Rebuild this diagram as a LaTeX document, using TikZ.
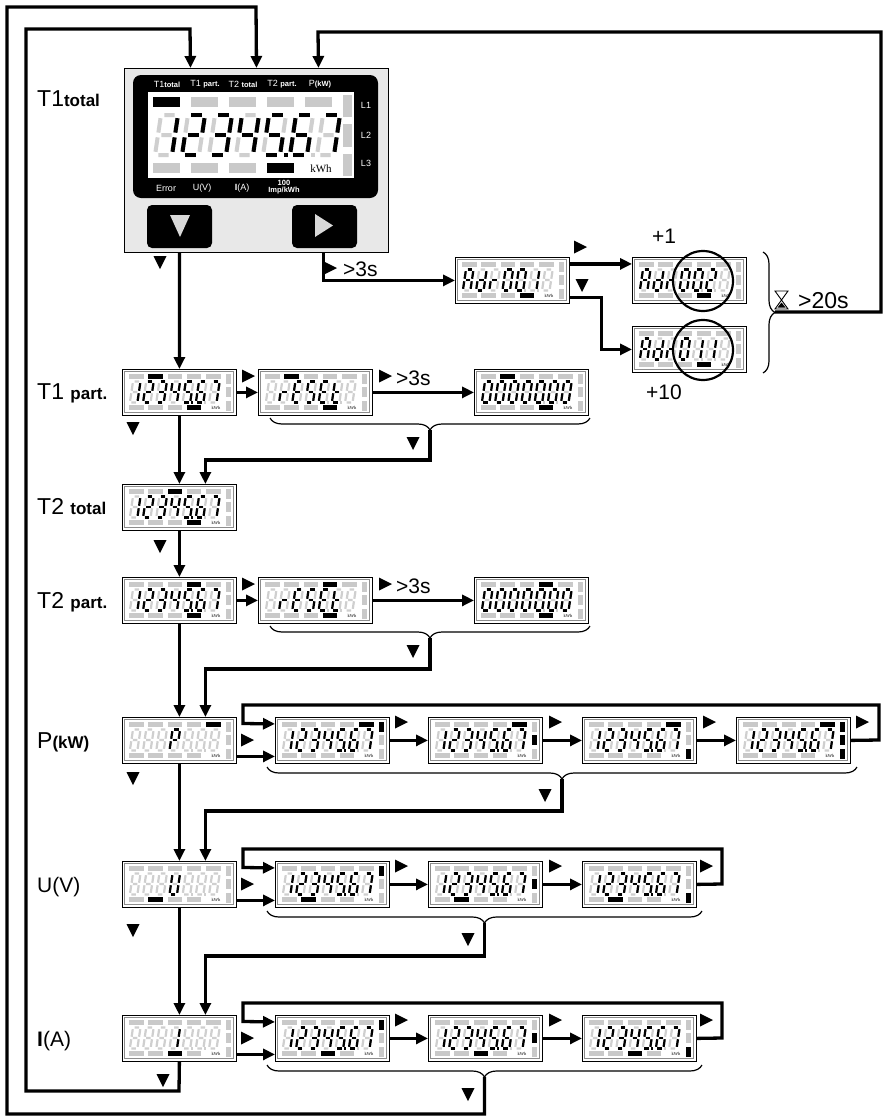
\documentclass[tikz,border=0pt]{standalone}
\usepackage{fontspec}
\setmainfont{Liberation Sans}
\newfontfamily\kwhfont{Liberation Serif}
\usetikzlibrary{arrows.meta,decorations.pathreplacing}
\definecolor{ghost}{gray}{0.81}
\definecolor{barg}{gray}{0.79}
\definecolor{devgray}{gray}{0.91}

\def\dw{7.5pt}\def\dh{21pt}\def\seglw{2.2pt}\def\dsl{0.15}
\def\sgZ{1111110}\def\sgOne{0110000}\def\sgTwo{1101101}\def\sgThree{1111001}
\def\sgFour{0110011}\def\sgFive{1011011}\def\sgSix{1011111}\def\sgSeven{1110000}
\def\sgG{0000000}\def\sgP{1100111}\def\sgU{0111110}\def\sgA{1110111}
\def\sgd{0111101}\def\sgr{0000101}\def\sgE{1001111}\def\sgS{1011011}\def\sgt{0001111}
\def\LnNums{\sgOne,\sgTwo,\sgThree,\sgFour,\sgFive,\sgSix,\sgSeven}
\def\LnZeros{\sgZ,\sgZ,\sgZ,\sgZ,\sgZ,\sgZ,\sgZ}
\def\LnReset{\sgG,\sgr,\sgE,\sgS,\sgE,\sgt,\sgG}

\tikzset{
  conn/.style={line width=3.3pt},
  arr/.style={conn,-{Triangle[length=12pt,width=11pt]}},
  segon/.style={line width=\seglw,draw=black},
  segoff/.style={line width=\seglw,draw=ghost},
  dbox/.style={draw,line width=0.8pt,fill=white,minimum width=114pt,minimum height=46pt,inner sep=0pt,anchor=north west},
  bracefine/.style={decorate,decoration={brace,amplitude=12pt},line width=1.2pt},
  lbl/.style={anchor=base west,inner sep=0pt},
  devtxt/.style={text=white,inner sep=0pt,font=\fontsize{9}{10}\selectfont},
  bigtxt/.style={inner sep=0pt,font=\fontsize{21}{24}\selectfont}
}

\def\DigParse#1#2#3#4#5#6#7\relax{%
  \draw[segoff] (0.2,0)--(0.8,0) (1,0.08)--(1,0.44) (1,0.56)--(1,0.92) (0.2,1)--(0.8,1) (0,0.56)--(0,0.92) (0,0.08)--(0,0.44) (0.2,0.5)--(0.8,0.5);
  \ifnum#1=1 \draw[segon] (0.2,0)--(0.8,0);\fi
  \ifnum#2=1 \draw[segon] (1,0.08)--(1,0.44);\fi
  \ifnum#3=1 \draw[segon] (1,0.56)--(1,0.92);\fi
  \ifnum#4=1 \draw[segon] (0.2,1)--(0.8,1);\fi
  \ifnum#5=1 \draw[segon] (0,0.56)--(0,0.92);\fi
  \ifnum#6=1 \draw[segon] (0,0.08)--(0,0.44);\fi
  \ifnum#7=1 \draw[segon] (0.2,0.5)--(0.8,0.5);\fi}

\newcommand\Dig[3]{%
  \begin{scope}[shift={(#1,#2)},x=\dw,y=-\dh,xslant=\dsl]
    \edef\tmpsegs{#3}%
    \expandafter\DigParse\tmpsegs\relax
  \end{scope}}

\def\SideBars#1#2#3{%
  \ifnum#1=1 \fill[black] (103.5,4.6) rectangle (108.5,14.5);\else\fill[barg] (103.5,4.6) rectangle (108.5,14.5);\fi
  \ifnum#2=1 \fill[black] (103.5,18) rectangle (108.5,28);\else\fill[barg] (103.5,18) rectangle (108.5,28);\fi
  \ifnum#3=1 \fill[black] (103.5,31.5) rectangle (108.5,41.5);\else\fill[barg] (103.5,31.5) rectangle (108.5,41.5);\fi}

\newcommand\DispContent[5]{%
  \draw[black!45,line width=0.5pt] (2.3,2.3) rectangle (111.7,43.7);
  \foreach \k in {1,...,5}{%
    \ifnum\k=#1\relax \fill[black] ({7+(\k-1)*19.3},4.6) rectangle ++(14.5,5);%
    \else \fill[barg] ({7+(\k-1)*19.3},4.6) rectangle ++(14.5,5);\fi}
  \foreach \k in {1,...,4}{%
    \ifnum\k=#2\relax \fill[black] ({7+(\k-1)*19.3},36.4) rectangle ++(14.5,5);%
    \else \fill[barg] ({7+(\k-1)*19.3},36.4) rectangle ++(14.5,5);\fi}
  \SideBars#3%
  \node[font=\kwhfont\fontsize{4.5}{5}\selectfont,inner sep=0pt] (kwh) at (94,39) {kWh};
  \edef\dlist{#4}%
  \foreach \s [count=\i from 0] in \dlist {\Dig{11+\i*13.2}{12.5}{\s}}
  \fill[ghost] (69,32.4) rectangle ++(2.2,2.2);
  \fill[ghost] (82.2,32.4) rectangle ++(2.2,2.2);
  \ifnum#5=1 \fill[black] (69,32.4) rectangle ++(2.2,2.2);\fi}

\newcommand\Disp[8]{%
  \node[dbox] (#1) at (#2,#3) {};
  \begin{scope}[shift={(#2,#3)}]\DispContent{#4}{#5}{#6}{#7}{#8}\end{scope}}

\newcommand\tdn[2]{\fill (#1-6.5,#2-6) -- (#1+6.5,#2-6) -- (#1,#2+7) -- cycle;}
\newcommand\trt[2]{\fill (#1-6,#2-6.5) -- (#1+7,#2) -- (#1-6,#2+6.5) -- cycle;}
\newcommand\bigsz{\fontsize{23}{26}\selectfont}
\newcommand\subsz{\fontsize{17}{20}\selectfont\bfseries}

\begin{document}
\begin{tikzpicture}[x=1pt,y=-1pt]
\fill[white] (0,0) rectangle (888,1119);
\useasboundingbox (0,0) rectangle (888,1119);

% ---------- main device ----------
\node[draw,line width=1pt,fill=devgray,minimum width=264pt,minimum height=184pt,inner sep=0pt,anchor=north west] (dev) at (124,68) {};
\fill[black,rounded corners=8pt] (133,75) rectangle (378,198);
\fill[white] (148,92) rectangle (354,178);
\node[devtxt] (dl1) at (167,84) {T1\fontsize{7.5}{8}\selectfont\bfseries total};
\node[devtxt] (dl2) at (205,84) {T1 \fontsize{7.5}{8}\selectfont\bfseries part.};
\node[devtxt] (dl3) at (243,84) {T2 \fontsize{7.5}{8}\selectfont\bfseries total};
\node[devtxt] (dl4) at (282,84) {T2 \fontsize{7.5}{8}\selectfont\bfseries part.};
\node[devtxt] (dl5) at (320,84) {P\fontsize{7.5}{8}\selectfont\bfseries (kW)};
\node[devtxt] (dL1) at (366,105) {L1};
\node[devtxt] (dL2) at (366,135) {L2};
\node[devtxt] (dL3) at (366,163) {L3};
\node[devtxt] (dE) at (166,188) {Error};
\node[devtxt] (dU) at (202,188) {U(V)};
\node[devtxt] (dI) at (242,188) {\textbf{I}(A)};
\node[devtxt,align=center,font=\fontsize{7.5}{7.5}\selectfont\bfseries] (dImp) at (284,187) {100\\Imp/kWh};
\foreach \xx/\cc in {153/black,191/barg,229/barg,267/barg,305/barg}{\fill[\cc] (\xx,97) rectangle ++(27,10);}
\foreach \xx/\cc in {153/barg,191/barg,229/barg,267/black}{\fill[\cc] (\xx,163) rectangle ++(27,10);}
\fill[barg] (343,95) rectangle (352,117);
\fill[barg] (343,124) rectangle (352,147);
\fill[barg] (343,154) rectangle (352,176);
\node[font=\kwhfont\fontsize{11}{12}\selectfont,inner sep=0pt] (dkwh) at (321,169) {kWh};
\begingroup
\def\dw{17pt}\def\dh{40pt}\def\seglw{4pt}
\edef\dlist{\LnNums}
\foreach \s [count=\i from 0] in \dlist {\Dig{161+\i*27}{115}{\s}}
\endgroup
\fill[black] (283.5,153) rectangle ++(4.2,4.2);
\fill[ghost] (310.5,153) rectangle ++(4.2,4.2);
\fill[black,rounded corners=5pt] (147,205) rectangle (212,248);
\fill[gray!30] (170,215) -- (190,215) -- (180,237) -- cycle;
\fill[black,rounded corners=5pt] (292,205) rectangle (357,248);
\fill[gray!30] (315,214) -- (333,225.5) -- (315,237) -- cycle;

% ---------- labels ----------
\node[lbl] (lT1t) at (37,106) {\bigsz T1\subsz total};
\node[lbl] (lT1p) at (37,399) {\bigsz T1 \subsz part.};
\node[lbl] (lT2t) at (37,514) {\bigsz T2 \subsz total};
\node[lbl] (lT2p) at (37,608) {\bigsz T2 \subsz part.};
\node[lbl] (lP) at (37,748) {\bigsz P\subsz (kW)};
\node[lbl] (lU) at (37,892) {\fontsize{21}{24}\selectfont U(V)};
\node[lbl] (lI) at (37,1046) {\fontsize{21}{24}\selectfont\textbf{I}(A)};

% ---------- displays ----------
\Disp{adrA}{455}{257}{0}{4}{000}{\sgA,\sgd,\sgr,\sgZ,\sgZ,\sgOne,\sgG}{0}
\Disp{adrB}{632}{257}{0}{4}{000}{\sgA,\sgd,\sgr,\sgZ,\sgZ,\sgTwo,\sgG}{0}
\Disp{adrC}{632}{326}{0}{4}{000}{\sgA,\sgd,\sgr,\sgZ,\sgOne,\sgOne,\sgG}{0}
\foreach \yy/\dd in {257/{\sgG,\sgG,\sgG,\sgZ,\sgZ,\sgTwo,\sgG},326/{\sgG,\sgG,\sgG,\sgZ,\sgOne,\sgOne,\sgG}}{
  \begin{scope}
    \fill[white] (703,\yy+24) circle (30);
    \clip (703,\yy+24) circle (30);
    \begin{scope}[shift={(632,\yy)}]
      \DispContent{0}{4}{000}{\dd}{0}
      \draw[line width=0.8pt] (0,0) rectangle (114,46);
    \end{scope}
  \end{scope}
  \draw[line width=2.2pt] (703,\yy+24) circle (30);
}

\Disp{T1p}{122}{369}{2}{4}{000}{\LnNums}{1}
\Disp{T1r}{258}{369}{2}{4}{000}{\LnReset}{0}
\Disp{T1z}{474}{369}{2}{4}{000}{\LnZeros}{0}
\Disp{T2t}{122}{484}{3}{4}{000}{\LnNums}{1}
\Disp{T2p}{122}{577}{4}{4}{000}{\LnNums}{1}
\Disp{T2r}{258}{577}{4}{4}{000}{\LnReset}{0}
\Disp{T2z}{474}{577}{4}{4}{000}{\LnZeros}{0}

\Disp{Pd}{122}{717}{5}{0}{000}{\sgG,\sgG,\sgG,\sgP,\sgG,\sgG,\sgG}{0}
\Disp{P1}{275}{717}{5}{0}{100}{\LnNums}{1}
\Disp{P2}{428}{717}{5}{0}{010}{\LnNums}{1}
\Disp{P3}{582}{717}{5}{0}{001}{\LnNums}{1}
\Disp{P4}{736}{717}{5}{0}{111}{\LnNums}{1}

\Disp{Ud}{122}{861}{0}{2}{000}{\sgG,\sgG,\sgG,\sgU,\sgG,\sgG,\sgG}{0}
\Disp{U1}{275}{861}{0}{2}{100}{\LnNums}{1}
\Disp{U2}{428}{861}{0}{2}{010}{\LnNums}{1}
\Disp{U3}{582}{861}{0}{2}{001}{\LnNums}{1}

\Disp{Id}{122}{1015}{0}{3}{000}{\sgG,\sgG,\sgG,\sgOne,\sgG,\sgG,\sgG}{0}
\Disp{I1}{275}{1015}{0}{3}{100}{\LnNums}{1}
\Disp{I2}{428}{1015}{0}{3}{010}{\LnNums}{1}
\Disp{I3}{582}{1015}{0}{3}{001}{\LnNums}{1}

% ---------- braces ----------
\draw[bracefine] (590,418) -- (270,418);
\draw[bracefine] (590,626) -- (270,626);
\draw[bracefine] (857,767) -- (267,767);
\draw[bracefine] (702,911) -- (267,911);
\draw[bracefine] (702,1065) -- (267,1065);
\draw[bracefine] (763,252) -- (763,373);
\coordinate (b1) at (430,430);
\coordinate (b2) at (430,638);
\coordinate (b3) at (562,779);
\coordinate (b4) at (484.5,923);
\coordinate (b5) at (484.5,1077);
\coordinate (b6) at (775,312);

% ---------- connectors ----------
\draw[arr] (b5) -- (484.5,1114) -- (7,1114) -- (7,7) -- (256,7) -- (dev.north);
\draw[arr] (Id.south) -- (179,1091) -- (26,1091) -- (26,29) -- (190,29) -- ([xshift=-66pt]dev.north);
\draw[arr] (b6) -- (881,312) -- (881,32) -- (318,32) -- ([xshift=62pt]dev.north);
\draw[arr] ([xshift=-77pt]dev.south) -- (T1p.north);
\draw[arr] ([xshift=67pt]dev.south) |- (adrA.west);
\draw[arr] ([yshift=16.5pt]adrA.east) -- ([yshift=16.5pt]adrA.east -| adrB.west);
\draw[arr] ([yshift=-17pt]adrA.east) -- ++(32,0) |- (adrC.west);

\draw[arr] (T1p.east) -- (T1r.west);
\draw[arr] (T1r.east) -- (T1z.west);
\draw[arr] (b1) -- (430,460) -| ([xshift=26pt]T2t.north);
\draw[arr] (T1p.south) -- (T2t.north);
\draw[arr] (T2t.south) -- (T2p.north);
\draw[arr] (T2p.east) -- (T2r.west);
\draw[arr] (T2r.east) -- (T2z.west);
\draw[arr] (b2) -- (430,669) -| ([xshift=26pt]Pd.north);
\draw[arr] (T2p.south) -- (Pd.north);

\draw[arr] ([yshift=-16pt]Pd.east) -- ([yshift=-16pt]P1.west);
\draw[arr] (P4.east) -- (879,740) -- (879,705) -- (243,705) -- (243,723.5) -- ([yshift=16.5pt]P1.west);
\draw[arr] (P1.east) -- (P2.west);
\draw[arr] (P2.east) -- (P3.west);
\draw[arr] (P3.east) -- (P4.west);
\draw[arr] (b3) -- (562,811) -| ([xshift=26pt]Ud.north);
\draw[arr] (Pd.south) -- (Ud.north);

\draw[arr] ([yshift=-16pt]Ud.east) -- ([yshift=-16pt]U1.west);
\draw[arr] (U3.east) -- (722,884) -- (722,849) -- (243,849) -- (243,867.5) -- ([yshift=16.5pt]U1.west);
\draw[arr] (U1.east) -- (U2.west);
\draw[arr] (U2.east) -- (U3.west);
\draw[arr] (b4) -- (484.5,956) -| ([xshift=26pt]Id.north);
\draw[arr] (Ud.south) -- (Id.north);

\draw[arr] ([yshift=-16pt]Id.east) -- ([yshift=-16pt]I1.west);
\draw[arr] (I3.east) -- (722,1038) -- (722,1003) -- (243,1003) -- (243,1021.5) -- ([yshift=16.5pt]I1.west);
\draw[arr] (I1.east) -- (I2.west);
\draw[arr] (I2.east) -- (I3.west);

% ---------- button symbols ----------
\tdn{160}{262}
\trt{330}{268}
\node[bigtxt,anchor=base west] (t3a) at (343,276) {>3s};
\trt{580}{247}
\tdn{582}{285}
\node[bigtxt] (tp1) at (664,236) {+1};
\node[bigtxt] (tp10) at (664,392) {+10};
\draw[line width=0.9pt] (775,291) -- (788,291) -- (781.5,300) -- (788,309) -- (775,309) -- (781.5,300) -- cycle;
\fill (777.5,307.5) -- (785.5,307.5) -- (781.5,302.5) -- cycle;
\node[anchor=base west,inner sep=0pt,font=\fontsize{23}{26}\selectfont] (t20) at (798,308) {>20s};

\trt{248}{376} \trt{385}{376}
\node[bigtxt,anchor=base west] (t3b) at (396,385) {>3s};
\trt{248}{584} \trt{385}{584}
\node[bigtxt,anchor=base west] (t3c) at (396,593) {>3s};
\tdn{133}{428} \tdn{413}{443}
\tdn{160}{546}
\tdn{413}{651}
\trt{247}{740} \trt{401}{722} \trt{555}{722} \trt{709}{722} \trt{862}{722}
\tdn{133}{778} \tdn{545}{795}
\trt{247}{884} \trt{401}{866} \trt{555}{866} \trt{706}{866}
\tdn{133}{930} \tdn{468}{939}
\trt{247}{1038} \trt{401}{1020} \trt{555}{1020} \trt{706}{1020}
\tdn{163}{1080} \tdn{468}{1094}
\end{tikzpicture}
\end{document}
